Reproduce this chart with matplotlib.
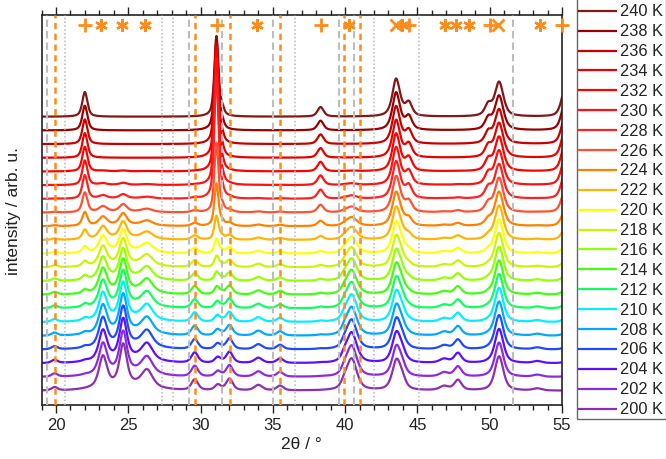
import numpy as np
import matplotlib
matplotlib.use("Agg")
import matplotlib.pyplot as plt
from matplotlib.lines import Line2D
from matplotlib.patches import Rectangle
from matplotlib.transforms import blended_transform_factory

plt.rcParams['font.family'] = ['Liberation Sans', 'DejaVu Sans']

# ---------------- data ----------------
temps = [200, 202, 204, 206, 208, 210, 212, 214, 216, 218, 220,
         222, 224, 226, 228, 230, 232, 234, 236, 238, 240]
labels = [f"{t} K" for t in temps]
colors = ['#8B30B0', '#8A2BE2', '#5A10FF', '#1E4BFF', '#00A8FF', '#00F0FF',
          '#10FF60', '#40FF10', '#96FF00', '#CCF500', '#FFFF00',
          '#FFB400', '#FF8000', '#FF5030', '#FF2020', '#FF1010', '#FF0000',
          '#E80000', '#C80000', '#9A0000', '#801818']

# phase fractions (per temperature, 200 K -> 240 K)
frac_lt = [1.0, 0.98, 0.96, 0.93, 0.90, 0.86, 0.82, 0.77, 0.70, 0.62, 0.52,
           0.40, 0.28, 0.18, 0.10, 0.05, 0.02, 0.0, 0.0, 0.0, 0.0]
frac_ht = [0.0, 0.02, 0.04, 0.06, 0.08, 0.10, 0.12, 0.14, 0.17, 0.20, 0.25,
           0.38, 0.55, 0.80, 0.95, 1.0, 1.0, 1.0, 1.0, 1.0, 1.0]
# height of the strong HT reflection near 31.1 deg
h_311 = [0.0, 0.0, 0.03, 0.05, 0.10, 0.15, 0.20, 0.30, 0.40, 0.60, 0.90,
         1.60, 3.0, 5.0, 9.0, 9.2, 8.8, 8.1, 7.4, 6.6, 5.85]

# low-temperature phase peaks: position, height, FWHM
lt_pos = [19.9, 23.25, 24.65, 26.3, 29.6, 31.2, 32.0, 34.0, 35.5, 39.95,
          40.45, 43.95, 46.85, 47.8, 53.3]
lt_h = [0.25, 2.2, 2.9, 1.2, 0.8, 0.4, 0.85, 0.4, 0.35, 0.35,
        2.3, 0.6, 0.3, 0.75, 0.15]
lt_w = [0.5, 0.65, 0.6, 0.9, 0.55, 0.5, 0.55, 0.65, 0.55, 0.5,
        0.85, 0.6, 0.75, 0.6, 0.7]
lt_hump = (24.8, 0.45, 4.0)

# high-temperature phase peaks
ht_pos = [22.0, 31.5, 38.3, 43.5, 44.4, 49.9, 55.2]
ht_h = [1.8, 0.45, 0.7, 0.65, 0.95, 0.8, 2.0]
ht_w = [0.42, 0.3, 0.5, 0.45, 0.55, 0.55, 0.6]
pos_311, w_311 = 31.1, 0.34

# peaks present at all temperatures
x_pos = [43.55, 50.65]
x_h = [2.1, 2.5]
x_w = [0.7, 0.7]

# reference lines
ref_gray_dashed = [19.4, 29.2, 31.5, 35.0, 39.55, 40.6, 51.6]
ref_gray_dotted = [20.6, 27.3, 28.1, 36.5, 42.0, 45.1]
ref_orange_dashed = [19.9, 29.6, 32.05, 35.5, 39.95, 41.05]

# phase markers at top
plus_pos = [22.0, 31.15, 38.3, 44.4, 50.0, 55.0]
star_pos = [23.1, 24.6, 26.15, 33.9, 40.3, 43.9, 46.9, 47.65, 48.55, 53.5]
cross_pos = [43.5, 50.6]

ORANGE = '#FF8C1A'

# ---------------- profile ----------------
x = np.linspace(19.0, 55.6, 4000)


def pv(x0, h, w, eta=0.6):
    d = (x - x0) / (w / 2.0)
    return h * (eta / (1 + d ** 2) + (1 - eta) * np.exp(-np.log(2) * d ** 2))


fig = plt.figure(figsize=(6.66, 4.6), dpi=100)
W, H = 666.0, 460.0
ax = fig.add_axes([41.5 / W, (H - 406) / H, (562 - 41.5) / W, (406 - 15.5) / H])

for i in range(len(temps) - 1, -1, -1):
    y = np.zeros_like(x)
    for p, h, w in zip(lt_pos, lt_h, lt_w):
        y += frac_lt[i] * pv(p, h, w)
    y += frac_lt[i] * pv(lt_hump[0], lt_hump[1], lt_hump[2], eta=0.0)
    for p, h, w in zip(ht_pos, ht_h, ht_w):
        y += frac_ht[i] * pv(p, h, w)
    y += pv(pos_311, h_311[i], w_311)
    for p, h, w in zip(x_pos, x_h, x_w):
        y += pv(p, h, w)
    ax.plot(x, y + i, color=colors[i], lw=1.6, zorder=2)

for xv in ref_gray_dashed:
    ax.axvline(xv, color='#BDBDBD', lw=1.5, ls=(0, (3.5, 2)), zorder=3)
for xv in ref_gray_dotted:
    ax.axvline(xv, color='#B8B8B8', lw=1.1, ls=(0, (1, 1.5)), zorder=3)
for xv in ref_orange_dashed:
    ax.axvline(xv, color=ORANGE, lw=1.8, ls=(0, (2.5, 1.8)), zorder=4)

tr = blended_transform_factory(ax.transData, ax.transAxes)
ym = 0.973
ax.plot(plus_pos, [ym] * len(plus_pos), ls='none', marker='+', ms=10, mew=2.0,
        color=ORANGE, transform=tr, clip_on=False, zorder=5)
ax.plot(star_pos, [ym] * len(star_pos), ls='none', marker=(6, 2, 0), ms=9,
        mew=1.7, color=ORANGE, transform=tr, clip_on=False, zorder=5)
ax.plot(cross_pos, [ym] * len(cross_pos), ls='none', marker='x', ms=8,
        mew=2.0, color=ORANGE, transform=tr, clip_on=False, zorder=5)

ax.set_xlim(19, 55)
ax.set_ylim(-1.04, 27.46)
ax.set_xticks(np.arange(20, 56, 5))
ax.set_xticks(np.arange(19, 56, 1), minor=True)
ax.set_yticks([])
ax.tick_params(axis='x', which='major', direction='out', length=6, width=1,
               top=True, labelsize=12, pad=2.5, colors='#222222')
ax.tick_params(axis='x', which='minor', direction='out', length=3.5, width=1,
               top=True, colors='#222222')
for s in ax.spines.values():
    s.set_linewidth(1.2)
    s.set_color('#222222')
ax.set_xlabel('2θ / °', fontsize=12.5, color='#222222', labelpad=3)
ax.set_ylabel('intensity / arb. u.', fontsize=12.5, color='#222222', labelpad=15)

# ---------------- legend ----------------
def fx(px):
    return px / W


def fy(py):
    return 1 - py / H


fig.add_artist(Rectangle((fx(576.5), fy(419.5)), fx(665.5) - fx(576.5),
                         fy(-2) - fy(419.5), transform=fig.transFigure,
                         fill=False, edgecolor='#666666', lw=1.0))
for j, i in enumerate(range(len(temps) - 1, -1, -1)):
    yy = 11.7 + j * 19.9
    fig.add_artist(Line2D([fx(578.5), fx(615.5)], [fy(yy), fy(yy)],
                          transform=fig.transFigure, color=colors[i], lw=1.6))
    fig.text(fx(620), fy(yy), labels[i], fontsize=11.8, color='#222222',
             ha='left', va='center')

fig.savefig('out.png', dpi=100)
